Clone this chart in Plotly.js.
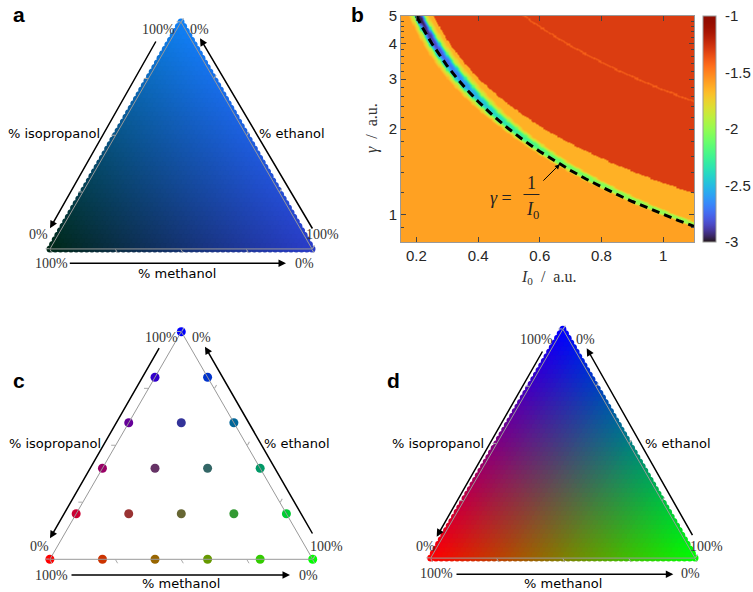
<!DOCTYPE html>
<html><head><meta charset="utf-8">
<script src="https://cdn.plot.ly/plotly-3.0.1.min.js"></script>
<style>html,body{margin:0;padding:0;background:#fff}#chart{width:753px;height:592px}</style>
</head><body><div id="chart"></div>
<script>
// ===================== DATA =====================
// Panel c: sampled mixtures (fractions of each solvent)
const cIsopropanol = [1, .8, .8, .6, .6, .6, .4, .4, .4, .4, .2, .2, .2, .2, .2, 0, 0, 0, 0, 0, 0];
const cMethanol    = [0, .2, 0, .4, .2, 0, .6, .4, .2, 0, .8, .6, .4, .2, 0, 1, .8, .6, .4, .2, 0];
const cEthanol     = [0, 0, .2, 0, .2, .4, 0, .2, .4, .6, 0, .2, .4, .6, .8, 0, .2, .4, .6, .8, 1];

// Pure-solvent corner colours (RGB) for panel a
const aColorMethanol    = [0, 40, 24];
const aColorEthanol     = [42, 60, 200];
const aColorIsopropanol = [16, 128, 245];
// Pure-solvent corner colours (RGB) for panels c and d
const dColorMethanol    = [255, 0, 0];
const dColorEthanol     = [0, 255, 0];
const dColorIsopropanol = [0, 0, 255];

// Panel b: map description, read along gamma
const gammaKnots     = [0.8, 1.0, 1.5, 2.0, 3.0, 4.0, 5.0];
const bandCenter     = [1.015, 1.015, 1.02, 1.025, 1.03, 1.035, 1.04];
const bandHalfWidth  = [0.012, 0.015, 0.025, 0.04, 0.075, 0.09, 0.095];
const bandCore       = [-1.97, -2.0, -2.1, -2.3, -2.65, -2.85, -3.0];
const redOnset       = [1.40, 1.33, 1.27, 1.23, 1.21, 1.23, 1.28];
const levelBelow  = -1.59;
const levelGap    = -1.64;
const levelRed    = -1.30;
const levelStreak = -1.40;
const bandEdge    = -1.92;
const streakRange = [2.73, 2.77];

// gamma = 1/I0 reference curve
const curveI0    = [0.2, 0.22, 0.25, 0.28, 0.3, 0.33, 0.36, 0.4, 0.45, 0.5, 0.55, 0.6, 0.65, 0.7, 0.75, 0.8, 0.85, 0.9, 0.95, 1.0, 1.05, 1.1];
const curveGamma = [5.0, 4.545, 4.0, 3.571, 3.333, 3.030, 2.778, 2.5, 2.222, 2.0, 1.818, 1.667, 1.538, 1.429, 1.333, 1.25, 1.176, 1.111, 1.053, 1.0, 0.952, 0.909];

// Ticks
const xTickVals = [0.2, 0.4, 0.6, 0.8, 1];
const xTickText = ['0.2', '0.4', '0.6', '0.8', '1'];
const yTickVals = [1, 2, 3, 4, 5];
const yTickText = ['1', '2', '3', '4', '5'];
const yMinorVals = [0.8, 0.9, 1.2, 1.4, 1.6, 1.8, 2.2, 2.4, 2.6, 2.8, 3.2, 3.4, 3.6, 3.8, 4.2, 4.4, 4.6, 4.8];
const cbTickVals = [-3, -2.5, -2, -1.5, -1];
const cbTickText = ['-3', '-2.5', '-2', '-1.5', '-1'];

// ===================== BUILD =====================
const W = 753, H = 592;
function mix(cm, ce, ci, m, e, i) {
  const r = Math.round(cm[0]*m + ce[0]*e + ci[0]*i);
  const g = Math.round(cm[1]*m + ce[1]*e + ci[1]*i);
  const b = Math.round(cm[2]*m + ce[2]*e + ci[2]*i);
  return 'rgb(' + r + ',' + g + ',' + b + ')';
}
// dense composition sampling for the continuous colour triangles
const N = 50;
const fillA = [], fillB = [], fillC = [];
for (let i = 0; i <= N; i++) for (let m = 0; m <= N - i; m++) {
  fillA.push(i / N); fillB.push(m / N); fillC.push((N - i - m) / N);
}
const colA = fillA.map((iso, k) => mix(aColorMethanol, aColorEthanol, aColorIsopropanol, fillB[k], fillC[k], iso));
const colD = fillA.map((iso, k) => mix(dColorMethanol, dColorEthanol, dColorIsopropanol, fillB[k], fillC[k], iso));
const colC = cIsopropanol.map((iso, k) => mix(dColorMethanol, dColorEthanol, dColorIsopropanol, cMethanol[k], cEthanol[k], iso));

// turbo colour map
function turbo(t) {
  const r = 34.61 + t*(1172.33 - t*(10793.56 - t*(33300.12 - t*(38394.49 - t*14825.05))));
  const g = 23.31 + t*(557.33 + t*(1225.33 - t*(3574.96 - t*(1073.77 + t*707.56))));
  const b = 27.2 + t*(3211.1 - t*(15327.97 - t*(27814 - t*(22569.18 - t*6838.66))));
  const c = v => Math.max(0, Math.min(255, Math.round(v)));
  return 'rgb(' + c(r) + ',' + c(g) + ',' + c(b) + ')';
}
const turboScale = [];
for (let k = 0; k <= 40; k++) turboScale.push([k / 40, turbo(k / 40)]);

// heatmap grid
function knot(arr, g) {
  const lg = Math.log(g);
  if (g <= gammaKnots[0]) return arr[0];
  for (let k = 1; k < gammaKnots.length; k++) {
    if (g <= gammaKnots[k]) {
      const l0 = Math.log(gammaKnots[k-1]), l1 = Math.log(gammaKnots[k]);
      const f = (lg - l0) / (l1 - l0);
      return arr[k-1] + f * (arr[k] - arr[k-1]);
    }
  }
  return arr[arr.length - 1];
}
const nx = 260, ny = 200;
const hx = [], hy = [], hz = [];
for (let i = 0; i < nx; i++) hx.push(0.15 + (1.1 - 0.15) * i / (nx - 1));
const ly0 = Math.log10(0.8), ly1 = Math.log10(5);
for (let j = 0; j < ny; j++) hy.push(Math.pow(10, ly0 + (ly1 - ly0) * j / (ny - 1)));
for (let j = 0; j < ny; j++) {
  const g = hy[j];
  const c = knot(bandCenter, g), hw = knot(bandHalfWidth, g), core = knot(bandCore, g), ro = knot(redOnset, g);
  const row = [];
  for (let i = 0; i < nx; i++) {
    const p = g * hx[i];
    const d = (p - c) / hw;
    const ad = Math.abs(d);
    let v;
    if (ad <= 1) v = core + (bandEdge - core) * ad * ad;
    else if (ad < 1.8) {
      const bg = d < 0 ? levelBelow : levelGap;
      v = bandEdge + (bg - bandEdge) * (ad - 1) / 0.8;
    } else if (d < 0) v = levelBelow;
    else if (p < ro) v = levelGap;
    else if (p > streakRange[0] && p < streakRange[1]) v = levelStreak;
    else v = levelRed;
    row.push(v);
  }
  hz.push(row);
}

// ===================== TRACES =====================
const traces = [
  { type: 'scatterternary', subplot: 'ternary', a: fillA, b: fillB, c: fillC, mode: 'markers',
    marker: { color: colA, size: 7, line: { width: 0 } }, cliponaxis: false, hoverinfo: 'skip' },
  { type: 'scatterternary', subplot: 'ternary2', a: cIsopropanol, b: cMethanol, c: cEthanol, mode: 'markers',
    marker: { color: colC, size: 9, line: { width: 0 } }, cliponaxis: false, hoverinfo: 'skip' },
  { type: 'scatterternary', subplot: 'ternary3', a: fillA, b: fillB, c: fillC, mode: 'markers',
    marker: { color: colD, size: 7, line: { width: 0 } }, cliponaxis: false, hoverinfo: 'skip' },
  { type: 'heatmap', x: hx, y: hy, z: hz, zmin: -3, zmax: -1, colorscale: turboScale, hoverinfo: 'skip',
    colorbar: { x: 703 / W, xanchor: 'left', xref: 'paper', thickness: 13, thicknessmode: 'pixels',
      len: 226 / H, lenmode: 'fraction', y: 1 - 129 / H, yanchor: 'middle', xpad: 0, ypad: 0,
      outlinewidth: 1, outlinecolor: '#999', tickmode: 'array', tickvals: cbTickVals, ticktext: cbTickText,
      ticks: 'outside', ticklen: 6, tickcolor: 'rgba(0,0,0,0)',
      tickfont: { family: 'Liberation Sans, Arial, sans-serif', size: 15, color: '#262626' } } },
  { type: 'scatter', x: curveI0, y: curveGamma, mode: 'lines', hoverinfo: 'skip',
    line: { color: '#000', width: 3, dash: '8px,5px' } }
];

// ===================== LAYOUT =====================
const tAxis = { showticklabels: false, showgrid: false, ticks: 'outside', ticklen: 4, tickcolor: '#aaa',
  tickmode: 'linear', tick0: 0, dtick: 0.25, showline: true, linecolor: '#999', linewidth: 1, title: { text: '' } };
function tern(x0, x1, y0, y1) {
  return { domain: { x: [x0 / W, x1 / W], y: [1 - y1 / H, 1 - y0 / H] }, sum: 1, bgcolor: 'rgba(0,0,0,0)',
    aaxis: tAxis, baxis: tAxis, caxis: tAxis };
}
const sansF = { family: 'DejaVu Sans, sans-serif', size: 13, color: '#000' };
const serifF = { family: 'Liberation Serif, Times New Roman, serif', size: 14, color: '#333' };
function T(text, x, y, font, extra) {
  return Object.assign({ xref: 'paper', yref: 'paper', x: x / W, y: 1 - y / H, text: text, showarrow: false,
    xanchor: 'center', yanchor: 'middle', font: font }, extra || {});
}
function A(tx, ty, hx, hy) {
  return { xref: 'paper', yref: 'paper', x: hx / W, y: 1 - hy / H, ax: tx - hx, ay: ty - hy, axref: 'pixel', ayref: 'pixel',
    text: '', showarrow: true, arrowhead: 2, arrowsize: 1, arrowwidth: 1.5, arrowcolor: '#000' };
}
function triangleLabels(p) {
  return [
    T('100%', p[0][0], p[0][1], serifF), T('0%', p[1][0], p[1][1], serifF),
    T('0%', p[2][0], p[2][1], serifF), T('100%', p[3][0], p[3][1], serifF),
    T('100%', p[4][0], p[4][1], serifF), T('0%', p[5][0], p[5][1], serifF),
    T('% isopropanol', p[6][0], p[6][1], sansF), T('% ethanol', p[7][0], p[7][1], sansF),
    T('% methanol', p[8][0], p[8][1], sansF)
  ];
}
const letterF = { family: 'Liberation Sans, Arial, sans-serif', size: 21, color: '#000' };
const mathF = { family: 'Liberation Serif, Times New Roman, serif', size: 18, color: '#222' };
const annotations = [].concat(
  triangleLabels([[158, 30], [199.5, 30], [38.5, 235], [322, 235], [51, 263], [304, 263], [53.5, 133], [291.5, 134], [177, 273]]),
  triangleLabels([[161, 337], [201.5, 337], [39.5, 546], [326, 546], [52, 575], [308.5, 575], [55, 443], [296.5, 443], [180.5, 583]]),
  triangleLabels([[536.7, 339], [585, 339], [425, 546], [706.5, 546], [436.7, 573], [690, 573], [438.3, 443], [677.5, 443], [563.3, 583]]),
  [
    A(156.7, 40, 50, 228.3), A(313.3, 230, 200, 38.3), A(68.3, 263.3, 286, 263.3),
    A(160, 346.7, 50, 538.3), A(313.3, 535, 205, 346.7), A(70, 575, 290, 575),
    A(543.3, 350, 436.7, 536.7), A(693.3, 536.7, 586.7, 348.3), A(455, 574.3, 673.3, 574.3),
    T('<b>a</b>', 18.5, 14, letterF), T('<b>b</b>', 357, 14, letterF),
    T('<b>c</b>', 18.5, 381, letterF), T('<b>d</b>', 393, 381, letterF),
    T('<i>I</i><sub>0</sub>\u2002/\u2002a.u.', 548, 278, { family: 'Liberation Serif, serif', size: 16, color: '#333' }),
    T('<i>γ</i>\u2002/\u2002a.u.', 372, 128, { family: 'Liberation Serif, serif', size: 16, color: '#333' }, { textangle: -90 }),
    T('<i>γ</i> =', 500.5, 198, mathF),
    T('1', 531, 183, mathF),
    T('<i>I</i><sub>0</sub>', 532, 210, mathF),
    { xref: 'x', yref: 'y', x: 0.665, y: Math.log10(1.504), ax: -18, ay: 18, axref: 'pixel', ayref: 'pixel',
      text: '', showarrow: true, arrowhead: 2, arrowsize: 1, arrowwidth: 1, arrowcolor: '#000' }
  ]
);

const tickF = { family: 'Liberation Sans, Arial, sans-serif', size: 15, color: '#262626' };
const layout = {
  width: W, height: H, margin: { l: 0, r: 0, t: 0, b: 0 }, paper_bgcolor: '#fff', plot_bgcolor: '#fff',
  showlegend: false,
  ternary: tern(50, 312, 22, 249),
  ternary2: tern(49.3, 313.3, 331.7, 559.3),
  ternary3: tern(430.7, 695, 329, 558.3),
  xaxis: { domain: [401 / W, 694 / W], anchor: 'y', range: [0.15, 1.1], tickmode: 'array', tickvals: xTickVals,
    ticktext: xTickText, ticks: 'inside', ticklen: 5, tickcolor: '#444', mirror: 'ticks', showline: true,
    linecolor: '#999', linewidth: 1, showgrid: false, zeroline: false, tickfont: tickF },
  yaxis: { domain: [1 - 242 / H, 1 - 16 / H], anchor: 'x', type: 'log', range: [Math.log10(0.8), Math.log10(5)],
    tickmode: 'array', tickvals: yTickVals, ticktext: yTickText, ticks: 'inside', ticklen: 5, tickcolor: '#444',
    mirror: 'ticks', showline: true, linecolor: '#999', linewidth: 1, showgrid: false, zeroline: false, tickfont: tickF,
    minor: { tickmode: 'array', tickvals: yMinorVals, ticks: 'inside', ticklen: 3, tickcolor: '#444', showgrid: false } },
  shapes: [
    { type: 'line', xref: 'paper', yref: 'paper', x0: 523.5 / W, x1: 539.5 / W, y0: 1 - 194.5 / H, y1: 1 - 194.5 / H,
      line: { color: '#222', width: 1 } }
  ],
  annotations: annotations
};

Plotly.newPlot('chart', traces, layout, { displayModeBar: false, staticPlot: true });
</script>
</body></html>
